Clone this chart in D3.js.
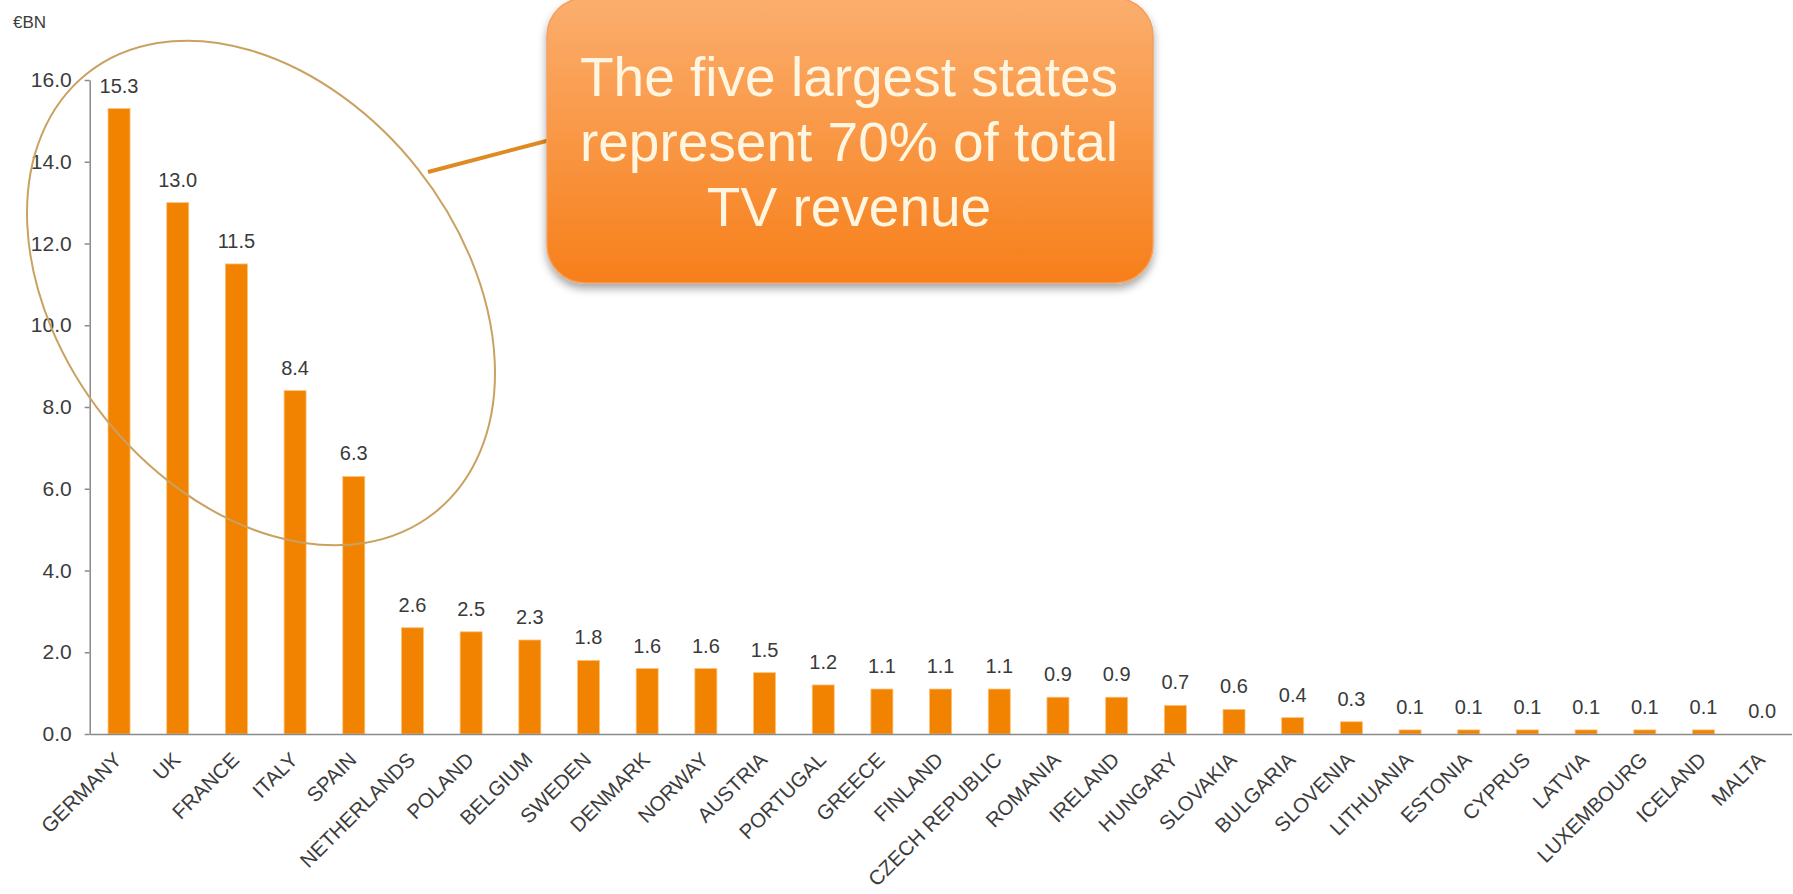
<!DOCTYPE html>
<html>
<head>
<meta charset="utf-8">
<script src="https://cdn.jsdelivr.net/npm/d3@7"></script>
<style>
  html, body { margin: 0; padding: 0; background: #ffffff; }
  svg { display: block; font-family: "Liberation Sans", Arial, sans-serif; }
</style>
</head>
<body>
<svg id="chart" width="1793" height="894"></svg>
<script>
// TV revenue by country, € billions
const countries = ["GERMANY","UK","FRANCE","ITALY","SPAIN","NETHERLANDS","POLAND","BELGIUM",
  "SWEDEN","DENMARK","NORWAY","AUSTRIA","PORTUGAL","GREECE","FINLAND","CZECH REPUBLIC",
  "ROMANIA","IRELAND","HUNGARY","SLOVAKIA","BULGARIA","SLOVENIA","LITHUANIA","ESTONIA",
  "CYPRUS","LATVIA","LUXEMBOURG","ICELAND","MALTA"];
const revenue = [15.3, 13.0, 11.5, 8.4, 6.3, 2.6, 2.5, 2.3, 1.8, 1.6, 1.6, 1.5, 1.2, 1.1, 1.1, 1.1,
  0.9, 0.9, 0.7, 0.6, 0.4, 0.3, 0.1, 0.1, 0.1, 0.1, 0.1, 0.1, 0.0];
const yTicks = [0, 2, 4, 6, 8, 10, 12, 14, 16];
const unitLabel = "€BN";
const calloutLines = ["The five largest states", "represent 70% of total", "TV revenue"];

const data = countries.map((c, i) => ({ country: c, value: revenue[i] }));

const svg = d3.select("#chart");
const defs = svg.append("defs");

const x = d3.scaleBand()
  .domain(countries)
  .range([89.7, 1791.5])
  .paddingInner(0.625)
  .paddingOuter(0.3125);

const y = d3.scaleLinear()
  .domain([0, 16])
  .range([734, 80]);

// Y axis
const yAxis = svg.append("g")
  .attr("transform", `translate(${x.range()[0]},0)`)
  .call(d3.axisLeft(y).tickValues(yTicks).tickFormat(d3.format(".1f"))
    .tickSize(5).tickSizeOuter(0).tickPadding(13));
yAxis.select(".domain").attr("stroke", "#8a8a8a").attr("stroke-width", 1.5);
yAxis.selectAll(".tick line").attr("stroke", "#8a8a8a").attr("stroke-width", 1.5);
yAxis.selectAll(".tick text")
  .attr("fill", "#3c3c3c")
  .style("font-size", "21px");

// unit label
svg.append("text")
  .attr("x", 13).attr("y", 28)
  .attr("fill", "#3c3c3c")
  .style("font-size", "17px")
  .text(unitLabel);

// Bars
svg.append("g").selectAll("rect")
  .data(data)
  .join("rect")
  .attr("x", d => x(d.country))
  .attr("width", x.bandwidth())
  .attr("y", d => y(d.value))
  .attr("height", d => y(0) - y(d.value))
  .attr("fill", "#f18300")
  .attr("stroke", "#fbc27a")
  .attr("stroke-width", 0.8);

// X axis
const xAxis = svg.append("g")
  .attr("transform", `translate(0,${y(0)})`)
  .call(d3.axisBottom(x).tickSize(0).tickSizeOuter(0));
xAxis.select(".domain").attr("stroke", "#8a8a8a").attr("stroke-width", 1.5);
xAxis.selectAll(".tick text")
  .attr("x", 0).attr("y", 0).attr("dy", 0)
  .attr("transform", "translate(4,27) rotate(-45)")
  .style("text-anchor", "end")
  .style("font-size", "20.5px")
  .attr("fill", "#3c3c3c");

// Value labels
svg.append("g").selectAll("text")
  .data(data)
  .join("text")
  .attr("x", d => x(d.country) + x.bandwidth() / 2)
  .attr("y", d => y(d.value) - 16)
  .attr("text-anchor", "middle")
  .attr("fill", "#3a3a3a")
  .style("font-size", "20px")
  .text(d => d3.format(".1f")(d.value));

// Highlight ring around the five largest markets
svg.append("ellipse")
  .attr("cx", 0).attr("cy", 0)
  .attr("rx", 280).attr("ry", 200)
  .attr("transform", "translate(261,293) rotate(51.7)")
  .attr("fill", "none")
  .attr("stroke", "#c9a262")
  .attr("stroke-width", 2);

// Connector from ring to callout
svg.append("line")
  .attr("x1", 428).attr("y1", 172)
  .attr("x2", 550).attr("y2", 140)
  .attr("stroke", "#e08a22")
  .attr("stroke-width", 4);

// Callout box
const grad = defs.append("linearGradient")
  .attr("id", "calloutFill")
  .attr("x1", 0).attr("y1", 0).attr("x2", 0).attr("y2", 1);
grad.append("stop").attr("offset", "0%").attr("stop-color", "#fbae6e");
grad.append("stop").attr("offset", "100%").attr("stop-color", "#f77f1a");

const shadow = defs.append("filter")
  .attr("id", "calloutShadow")
  .attr("x", "-10%").attr("y", "-10%").attr("width", "120%").attr("height", "130%");
shadow.append("feDropShadow")
  .attr("dx", 0).attr("dy", 5).attr("stdDeviation", 4)
  .attr("flood-color", "#000").attr("flood-opacity", 0.35);

svg.append("rect")
  .attr("x", 547).attr("y", -2)
  .attr("width", 606).attr("height", 285)
  .attr("rx", 38).attr("ry", 38)
  .attr("fill", "url(#calloutFill)")
  .attr("stroke", "#f2a060")
  .attr("stroke-width", 1.5)
  .attr("filter", "url(#calloutShadow)");

svg.append("g").selectAll("text")
  .data(calloutLines)
  .join("text")
  .attr("x", 849)
  .attr("y", (d, i) => 96 + i * 65)
  .attr("text-anchor", "middle")
  .attr("fill", "#fff6e2")
  .style("font-size", "55px")
  .text(d => d);
</script>
</body>
</html>
